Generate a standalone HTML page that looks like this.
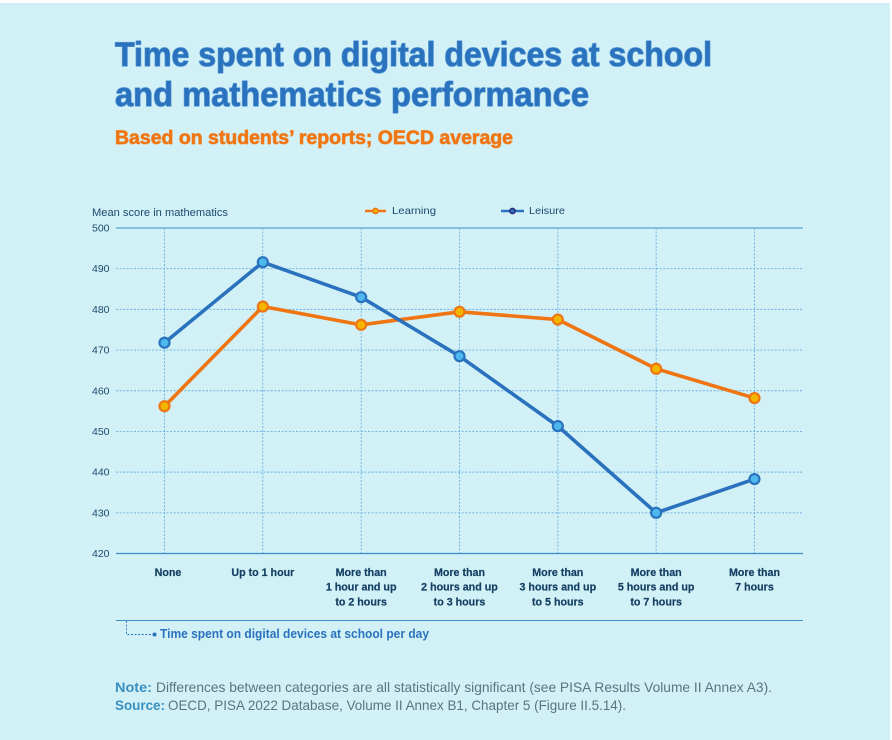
<!DOCTYPE html>
<html lang="en">
<head>
<meta charset="utf-8">
<title>Time spent on digital devices at school and mathematics performance</title>
<style>
html,body{margin:0;padding:0;background:#fff;}
body{width:892px;height:740px;overflow:hidden;}
svg{display:block;font-family:"Liberation Sans",sans-serif;}
</style>
</head>
<body>
<svg id="chart" width="892" height="740" viewBox="0 0 892 740" xmlns="http://www.w3.org/2000/svg">
  <rect x="0" y="3" width="890" height="737" fill="#d2f1f7"/>

  <g font-weight="700" font-size="34" fill="#2a72bd" stroke="#5f9fd8" stroke-width="1.3" stroke-linejoin="round" paint-order="stroke">
    <text x="115" y="66" textLength="597" lengthAdjust="spacingAndGlyphs">Time spent on digital devices at school</text>
    <text x="115" y="106" textLength="474" lengthAdjust="spacingAndGlyphs">and mathematics performance</text>
  </g>
  <text x="115" y="144" font-weight="700" font-size="19.5" fill="#ee7511" stroke="#f09a50" stroke-width="0.9" stroke-linejoin="round" paint-order="stroke" textLength="398" lengthAdjust="spacingAndGlyphs">Based on students’ reports; OECD average</text>

  <text x="92" y="216" font-size="11" fill="#1c4a6e" textLength="136" lengthAdjust="spacingAndGlyphs">Mean score in mathematics</text>

  <g font-size="10.5" fill="#1c4a6e">
    <g>
      <line x1="365" y1="211" x2="386" y2="211" stroke="#ee7511" stroke-width="2.4"/>
      <circle cx="375.5" cy="211" r="2.6" fill="#f2b600" stroke="#ee7511" stroke-width="1.6"/>
      <text x="392" y="214" textLength="44" lengthAdjust="spacingAndGlyphs">Learning</text>
    </g>
    <g>
      <line x1="501" y1="211" x2="524" y2="211" stroke="#2a72bd" stroke-width="2.4"/>
      <circle cx="512.5" cy="211" r="2.6" fill="#2a72bd" stroke="#2b2f7f" stroke-width="1.6"/>
      <text x="529" y="214" textLength="36" lengthAdjust="spacingAndGlyphs">Leisure</text>
    </g>
  </g>

  <g id="grid"></g>
  <g id="yticks"></g>
  <g id="series"></g>
  <g id="xlabels"></g>

  <line x1="116" y1="620.5" x2="803" y2="620.5" stroke="#3f8ccb" stroke-width="1"/>
  <path d="M126.5 621V634.5H152" fill="none" stroke="#2a72bd" stroke-width="0.9" stroke-dasharray="2 1.6"/>
  <circle cx="154.5" cy="634.5" r="2" fill="#2a72bd"/>
  <text x="160" y="638" font-size="12.5" font-weight="700" fill="#2a72bd" textLength="269" lengthAdjust="spacingAndGlyphs">Time spent on digital devices at school per day</text>

  <g font-size="14">
    <text x="115" y="692" font-weight="700" fill="#3a90c0" textLength="37" lengthAdjust="spacingAndGlyphs">Note:</text>
    <text x="156" y="692" fill="#5d7280" textLength="616" lengthAdjust="spacingAndGlyphs">Differences between categories are all statistically significant (see PISA Results Volume II Annex A3).</text>
    <text x="115" y="710" font-weight="700" fill="#3a90c0" textLength="50" lengthAdjust="spacingAndGlyphs">Source:</text>
    <text x="168" y="710" fill="#5d7280" textLength="458" lengthAdjust="spacingAndGlyphs">OECD, PISA 2022 Database, Volume II Annex B1, Chapter 5 (Figure II.5.14).</text>
  </g>
</svg>
<script>
const categories = [
  ["None"],
  ["Up to 1 hour"],
  ["More than", "1 hour and up", "to 2 hours"],
  ["More than", "2 hours and up", "to 3 hours"],
  ["More than", "3 hours and up", "to 5 hours"],
  ["More than", "5 hours and up", "to 7 hours"],
  ["More than", "7 hours"]
];
const learningValues = [456.2, 480.7, 476.2, 479.4, 477.5, 465.4, 458.2];
const leisureValues = [471.8, 491.6, 483.0, 468.5, 451.3, 430.0, 438.3];
const yTicks = [420, 430, 440, 450, 460, 470, 480, 490, 500];

const NS = 'http://www.w3.org/2000/svg';
const plot = { left: 116, right: 803, top: 228, bottom: 553.5, x0: 164.5, step: 98.33, yMin: 420, yMax: 500 };
function xScale(i) { return plot.x0 + i * plot.step; }
function yScale(v) { return plot.bottom - (v - plot.yMin) / (plot.yMax - plot.yMin) * (plot.bottom - plot.top); }
function make(tag, attrs, parent) {
  const el = document.createElementNS(NS, tag);
  for (const k in attrs) el.setAttribute(k, attrs[k]);
  parent.appendChild(el);
  return el;
}

const grid = document.getElementById('grid');
const yTickGroup = document.getElementById('yticks');
yTicks.forEach(function (t) {
  const y = yScale(t);
  const isEdge = t === plot.yMin || t === plot.yMax;
  if (!isEdge) {
    const g = make('line', { x1: plot.left, x2: plot.right, y1: y, y2: y, stroke: '#6aaee2', 'stroke-width': 0.9, 'stroke-dasharray': '2 1.6' }, grid);
    
    
  }
  const label = make('text', { x: 92, y: y + 3.5, 'font-size': 10.5, fill: '#1c4a6e' }, yTickGroup);
  
  
  label.textContent = t;
});
categories.forEach(function (c, i) {
  const g = make('line', { x1: xScale(i), x2: xScale(i), y1: plot.top, y2: plot.bottom, stroke: '#6aaee2', 'stroke-width': 0.9, 'stroke-dasharray': '2 1.6' }, grid);
  
  
});
const topAxis = make('line', { x1: plot.left, x2: plot.right, y1: plot.top, y2: plot.top, stroke: '#6fb0dc', 'stroke-width': 1.4 }, grid);


const xAxis = make('line', { x1: plot.left, x2: plot.right, y1: plot.bottom, y2: plot.bottom, stroke: '#3f8ccb', 'stroke-width': 1.2 }, grid);



const xLabelGroup = document.getElementById('xlabels');
categories.forEach(function (lines, i) {
  const t = make('text', { 'text-anchor': 'middle', 'font-size': 10.7, 'font-weight': 700, fill: '#143f63', stroke: '#143f63', 'stroke-width': 0.2 }, xLabelGroup);
  
  
  lines.forEach(function (line, j) {
    const s = make('tspan', { x: xScale(i) + (i === 0 ? 3.5 : 0), y: 576 + j * 14.7 }, t);
    s.textContent = line;
  });
});

const seriesGroup = document.getElementById('series');
function drawSeries(values, lineColor, fillColor, name) {
  const pts = values.map(function (v, i) { return xScale(i) + ',' + yScale(v); }).join(' ');
  const line = make('polyline', { points: pts, fill: 'none', stroke: lineColor, 'stroke-width': 3.6, 'stroke-linejoin': 'round' }, seriesGroup);
  
  line.setAttribute('data-series', name);
  
  values.forEach(function (v, i) {
    const p = make('circle', { cx: xScale(i), cy: yScale(v), r: 5, fill: fillColor, stroke: lineColor, 'stroke-width': 2.2 }, seriesGroup);
    
    p.setAttribute('data-series', name);
    
  });
}
drawSeries(learningValues, '#ee7511', '#f2b600', 'learning');
drawSeries(leisureValues, '#2a72bd', '#4db8ee', 'leisure');
</script>
</body>
</html>
